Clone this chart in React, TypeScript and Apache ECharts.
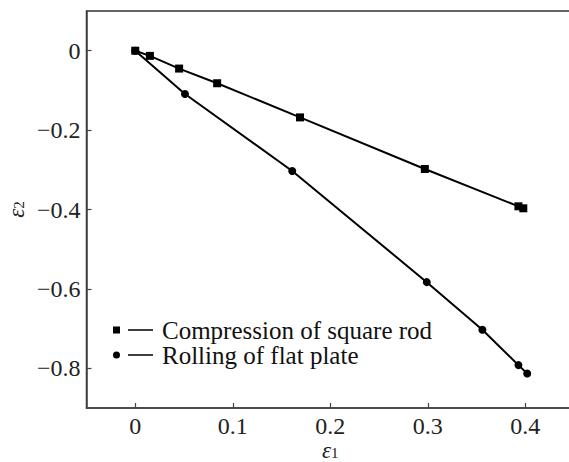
import React, { useEffect, useRef } from "react";
import * as echarts from "echarts";

const seriesNames = ["Compression of square rod", "Rolling of flat plate"];
const squareRodX = [0, 0.015, 0.045, 0.084, 0.169, 0.297, 0.393, 0.398];
const squareRodY = [0, -0.013, -0.045, -0.082, -0.168, -0.298, -0.392, -0.397];
const flatPlateX = [0, 0.051, 0.161, 0.299, 0.356, 0.393, 0.402];
const flatPlateY = [0, -0.109, -0.303, -0.583, -0.703, -0.792, -0.813];
const xTicks = [0, 0.1, 0.2, 0.3, 0.4];
const yTicks = [0, -0.2, -0.4, -0.6, -0.8];

const FONT = "Liberation Serif";

const fmt = (v: number) => {
  if (v === 0) return "0";
  const s = String(Math.abs(Math.round(v * 10) / 10));
  return v < 0 ? "\u2212" + s : s;
};

const nameRich = {
  i: { fontFamily: FONT, fontSize: 23, fontStyle: "italic", color: "#222", lineHeight: 18 },
  s: { fontFamily: FONT, fontSize: 15, color: "#222", lineHeight: 13, padding: [5, 0, 0, 0] },
};

export default function App() {
  const ref = useRef<HTMLDivElement>(null);
  useEffect(() => {
    if (!ref.current) return;
    const chart = echarts.init(ref.current, undefined, { renderer: "svg" });
    const zip = (xs: number[], ys: number[]) => xs.map((x, i) => [x, ys[i]]);
    const axisLine = { show: true, onZero: false, lineStyle: { color: "#444", width: 1.5 } };
    chart.setOption({
      animation: false,
      backgroundColor: "#fff",
      grid: {
        left: 86.5,
        top: 11,
        bottom: 54,
        right: -5,
        outerBoundsMode: "none",
        containLabel: false,
        show: true,
        borderColor: "#333",
        borderWidth: 1.5,
      },
      legend: {
        left: 108,
        top: 312.5,
        padding: 5,
        orient: "vertical",
        itemGap: 0,
        itemWidth: 40,
        itemHeight: 7,
        textStyle: {
          fontFamily: FONT,
          fontSize: 25,
          color: "#111",
          lineHeight: 25,
          padding: [0, 0, 0, 4],
        },
        data: [
          {
            name: seriesNames[0],
            icon: "path://M0,0h7v7h-7z M15,2.75h25v1.5h-25z",
          },
          {
            name: seriesNames[1],
            icon: "path://M3.5,0a3.5,3.5 0 1,1 0,7a3.5,3.5 0 1,1 0,-7z M15,2.75h25v1.5h-25z",
          },
        ],
      },
      xAxis: {
        type: "value",
        min: -0.05,
        max: 0.45,
        axisLine,
        splitLine: { show: false },
        axisTick: {
          show: true,
          inside: true,
          length: 5,
          customValues: xTicks,
          lineStyle: { color: "#444", width: 1.2 },
        },
        axisLabel: {
          customValues: xTicks,
          formatter: fmt,
          fontFamily: FONT,
          fontSize: 24,
          lineHeight: 18,
          color: "#222",
          margin: 9,
        },
        name: "{i|ε}{s|1}",
        nameLocation: "middle",
        nameGap: 33,
        nameMoveOverlap: false,
        nameTextStyle: { rich: nameRich },
      },
      yAxis: {
        type: "value",
        min: -0.9,
        max: 0.1,
        axisLine,
        splitLine: { show: false },
        axisTick: {
          show: true,
          inside: true,
          length: 5,
          customValues: yTicks,
          lineStyle: { color: "#444", width: 1.2 },
        },
        axisLabel: {
          customValues: yTicks,
          formatter: fmt,
          fontFamily: FONT,
          fontSize: 24,
          color: "#222",
          margin: 6,
        },
        name: "{i|ε}{s|2}",
        nameLocation: "middle",
        nameRotate: 90,
        nameGap: 61,
        nameMoveOverlap: false,
        nameTextStyle: { rich: nameRich },
      },
      series: [
        {
          name: seriesNames[1],
          type: "line",
          data: zip(flatPlateX, flatPlateY),
          symbol: "circle",
          symbolSize: 8,
          itemStyle: { color: "#000" },
          lineStyle: { color: "#000", width: 2 },
        },
        {
          name: seriesNames[0],
          type: "line",
          data: zip(squareRodX, squareRodY),
          symbol: "rect",
          symbolSize: 8,
          itemStyle: { color: "#000" },
          lineStyle: { color: "#000", width: 2 },
        },
      ],
    });
    return () => chart.dispose();
  }, []);
  return (
    <div
      ref={ref}
      style={{ position: "fixed", left: 0, top: 0, width: 569, height: 462 }}
    />
  );
}
